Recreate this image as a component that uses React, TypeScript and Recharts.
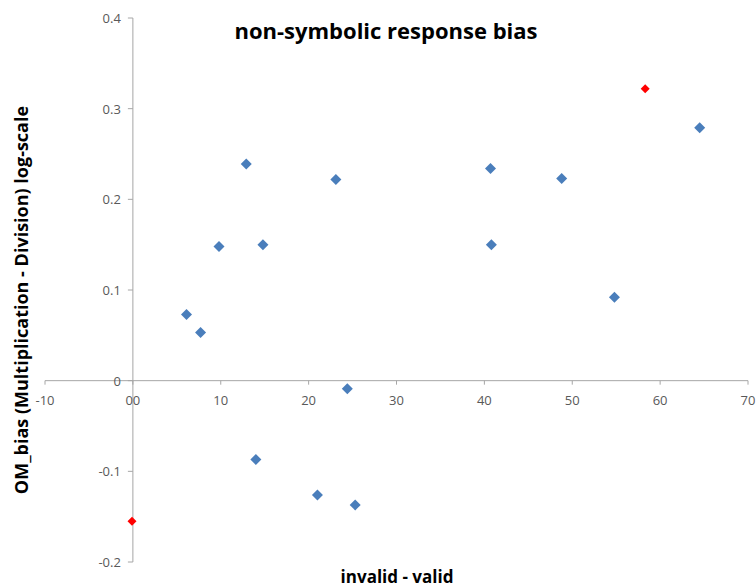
import { ScatterChart, Scatter, XAxis, YAxis, ReferenceLine } from "recharts"

const xTicks = [-10, 0, 10, 20, 30, 40, 50, 60, 70]
const yTicks = [-0.2, -0.1, 0, 0.1, 0.2, 0.3, 0.4]

// blue diamonds
const blueX = [6.1, 7.7, 9.8, 12.9, 14.8, 23.1, 40.7, 48.8, 40.8, 54.8, 64.5, 24.4, 14.0, 21.0, 25.3]
const blueY = [0.073, 0.053, 0.148, 0.239, 0.15, 0.222, 0.234, 0.223, 0.15, 0.092, 0.279, -0.009, -0.087, -0.126, -0.137]

// red outliers
const redX = [58.3, -0.1]
const redY = [0.322, -0.155]

const blueData = blueX.map((x, i) => ({ x, y: blueY[i] }))
const redData = redX.map((x, i) => ({ x, y: redY[i] }))

const W = 756
const H = 586
const margin = { top: 18, right: 8, bottom: 23, left: 44 }
const plotLeft = 45
const plotTop = 18
const plotW = W - plotLeft - margin.right
const plotH = H - plotTop - 24
const xMin = -10, xMax = 70, yMin = -0.2, yMax = 0.4

// where the axes cross (x = 0, y = 0)
const zeroX = plotLeft + (plotW * (0 - xMin)) / (xMax - xMin)
const zeroY = plotTop + (plotH * (yMax - 0)) / (yMax - yMin)

const axisColor = "#A6A6A6"
const tickColor = "#595959"
const font = "'Open Sans', sans-serif"

const XTick = (props: any) => {
  const { x, payload } = props
  const v = payload.value
  return (
    <g>
      <line x1={x} x2={x} y1={zeroY} y2={zeroY + 4} stroke={axisColor} />
      <text x={x} y={zeroY + 19} textAnchor="middle" dominantBaseline="central" fontSize={13} fill={tickColor} fontFamily={font}>
        {v === 0 ? "00" : String(v)}
      </text>
    </g>
  )
}

const YTick = (props: any) => {
  const { y, payload } = props
  const v = Math.round(payload.value * 10) / 10
  return (
    <g>
      <line x1={zeroX - 5} x2={zeroX} y1={y} y2={y} stroke={axisColor} />
      <text x={zeroX - 12} y={y} textAnchor="end" dominantBaseline="central" fontSize={13} fill={tickColor} fontFamily={font}>
        {String(v)}
      </text>
    </g>
  )
}

const Diamond = ({ cx, cy, r, fill }: { cx?: number; cy?: number; r: number; fill: string }) => {
  if (cx === undefined || cy === undefined) return null
  return <polygon points={`${cx},${cy - r} ${cx + r},${cy} ${cx},${cy + r} ${cx - r},${cy}`} fill={fill} />
}

export default function App() {
  return (
    <div style={{ position: "absolute", left: 0, top: 0, width: W, height: H, background: "#fff" }}>
      <ScatterChart width={W} height={H} margin={margin}>
        <XAxis
          type="number"
          dataKey="x"
          domain={[xMin, xMax]}
          ticks={xTicks}
          interval={0}
          axisLine={false}
          tickLine={false}
          height={1}
          tick={<XTick />}
        />
        <YAxis
          type="number"
          dataKey="y"
          domain={[yMin, yMax]}
          ticks={yTicks}
          interval={0}
          axisLine={false}
          tickLine={false}
          width={1}
          tick={<YTick />}
        />
        <ReferenceLine y={0} stroke={axisColor} />
        <ReferenceLine x={0} stroke={axisColor} />
        <Scatter
          data={blueData}
          isAnimationActive={false}
          shape={(p: any) => <Diamond cx={p.cx} cy={p.cy} r={5.5} fill="#4A7EBB" />}
        />
        <Scatter
          data={redData}
          isAnimationActive={false}
          shape={(p: any) => <Diamond cx={p.cx} cy={p.cy} r={4.5} fill="#FF0000" />}
        />
        <text x={386} y={30} textAnchor="middle" dominantBaseline="central" fontSize={22} fontWeight="bold" fill="#000" fontFamily={font}>
          non-symbolic response bias
        </text>
        <text x={397} y={576} textAnchor="middle" dominantBaseline="central" fontSize={17} fontWeight="bold" fill="#000" fontFamily={font}>
          invalid - valid
        </text>
        <text
          x={21}
          y={300}
          transform="rotate(-90 21 300)"
          textAnchor="middle"
          dominantBaseline="central"
          fontSize={18}
          fontWeight="bold"
          fill="#000"
          fontFamily={font}
        >
          OM_bias (Multiplication - Division) log-scale
        </text>
      </ScatterChart>
    </div>
  )
}
